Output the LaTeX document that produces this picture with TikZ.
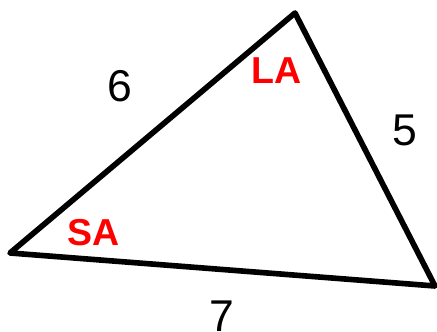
\documentclass[tikz,border=0pt]{standalone}
\usepackage{fontspec}
\setmainfont{Liberation Sans}
\usetikzlibrary{positioning}
\tikzset{
  edge/.style={line width=4.8pt, black, line join=round, line cap=round},
  sidelabel/.style={font=\fontsize{38}{42}\selectfont, text=black, inner sep=0pt},
  anglelabel/.style={font=\fontsize{32}{36}\selectfont\bfseries, text=red, inner sep=0pt},
}

\begin{document}
\begin{tikzpicture}
  \clip (0,0) rectangle (13.11,9.93);
  \useasboundingbox (0,0) rectangle (13.11,9.93);
  \coordinate (vleft) at (0.3,2.34);
  \coordinate (vtop) at (8.85,9.54);
  \coordinate (vright) at (13.05,1.35);
  \draw[edge] (vleft) -- (vtop) -- (vright) -- cycle;
  \node[sidelabel] (six) at (3.6,7.35) {6};
  \node[sidelabel] (five) at (12.15,6.03) {5};
  \node[sidelabel] (seven) at (6.66,0.45) {7};
  \node[anglelabel] (la) at (8.3,7.8) {LA};
  \node[anglelabel] (sa) at (2.8,2.95) {SA};
\end{tikzpicture}
\end{document}
